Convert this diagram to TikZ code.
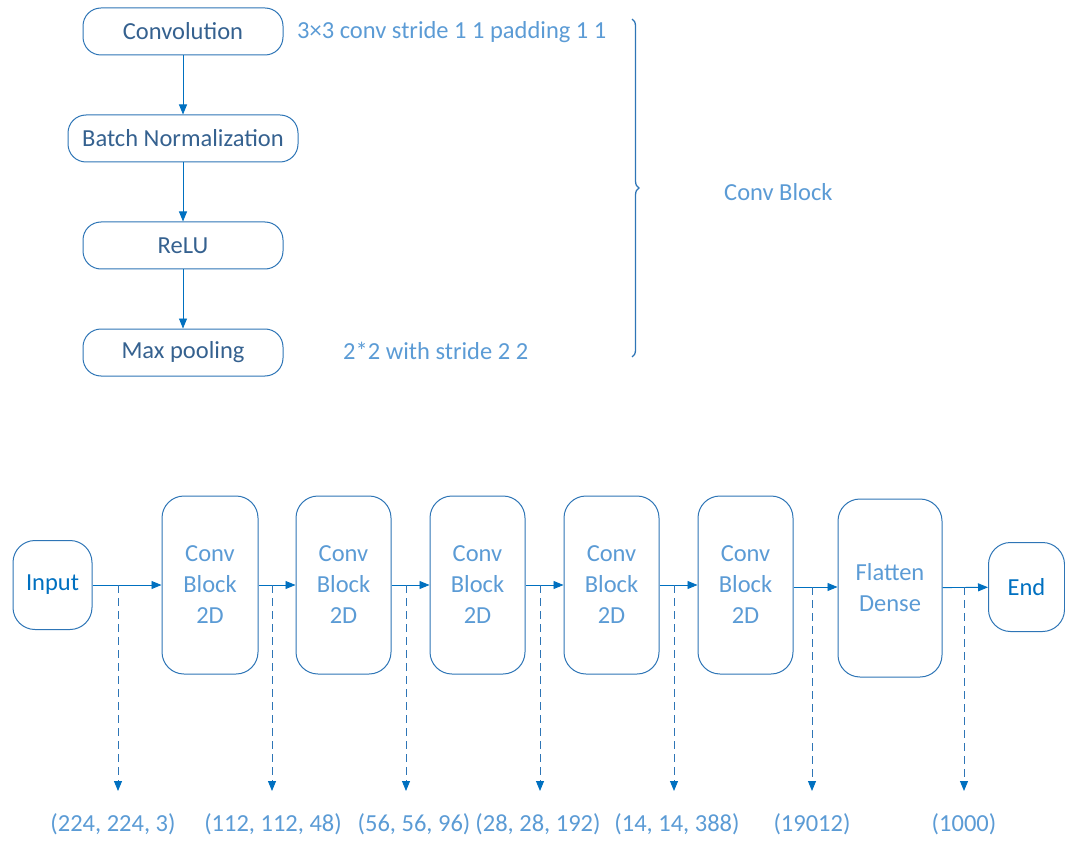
\documentclass[tikz,border=0pt]{standalone}
\usepackage{fontspec}
\setmainfont{Carlito}
\usetikzlibrary{arrows.meta,decorations.pathreplacing}
\definecolor{lineblue}{HTML}{2E75B6}
\definecolor{arrowblue}{HTML}{0070C0}
\definecolor{lightblue}{HTML}{5B9BD5}
\definecolor{steelblue}{HTML}{35618F}
\tikzset{
  x=1pt, y=-1pt,
  every node/.style={font=\fontsize{24.5}{31}\selectfont, inner sep=0pt},
  layerbox/.style={draw=lineblue, line width=1pt, rounded corners=18pt, text=steelblue},
  blockbox/.style={draw=lineblue, line width=1pt, rounded corners=22pt, text=lightblue, align=center},
  endbox/.style={draw=lineblue, line width=1pt, rounded corners=22pt, text=arrowblue},
  flow/.style={draw=arrowblue, line width=0.9pt, -{Triangle[length=10pt,width=8pt]}},
  probe/.style={draw=lineblue, line width=0.9pt, dash pattern=on 8pt off 5pt,
                -{Triangle[length=10pt,width=8pt,color=arrowblue,fill=arrowblue]}},
  note/.style={text=lightblue},
}
\begin{document}
\begin{tikzpicture}
\useasboundingbox (0,0) rectangle (1065,842);

% ---- conv block detail ----
\node[layerbox, minimum width=200pt, minimum height=47pt] (conv) at (183,31.5) {Convolution};
\node[layerbox, minimum width=230pt, minimum height=47pt] (bn) at (183,138.5) {Batch Normalization};
\node[layerbox, minimum width=200pt, minimum height=47pt] (relu) at (183,245.5) {ReLU};
\node[layerbox, minimum width=200pt, minimum height=47pt] (pool) at (183,352.5) {Max pooling};

\draw[flow] (conv) -- (bn);
\draw[flow] (bn) -- (relu);
\draw[flow] (relu) -- (pool);

\node[note, anchor=west] (convnote) at (297,32) {3×3 conv stride 1 1 padding 1 1};
\node[note, anchor=west] (poolnote) at (343,351) {2*2 with stride 2 2};

\coordinate (bracetop) at (632,19);
\coordinate (bracebot) at (632,357);
\draw[lineblue, line width=1.3pt, decorate, decoration={brace, amplitude=7pt}]
  (bracetop) -- (bracebot);
\node[note, anchor=west] (blocklabel) at (724,192) {Conv Block};

% ---- network pipeline ----
\node[endbox, minimum width=79pt, minimum height=89pt] (input) at (52.5,585) {Input};
\node[blockbox, minimum width=96pt, minimum height=178pt] (b1) at (210,585) {Conv\\Block\\2D};
\node[blockbox, minimum width=95pt, minimum height=178pt] (b2) at (343.5,585) {Conv\\Block\\2D};
\node[blockbox, minimum width=95pt, minimum height=178pt] (b3) at (477.5,585) {Conv\\Block\\2D};
\node[blockbox, minimum width=95pt, minimum height=178pt] (b4) at (611.5,585) {Conv\\Block\\2D};
\node[blockbox, minimum width=95pt, minimum height=178pt] (b5) at (745.5,585) {Conv\\Block\\2D};
\node[blockbox, minimum width=104pt, minimum height=178pt] (fd) at (890,588) {Flatten\\Dense};
\node[endbox, minimum width=76pt, minimum height=89pt] (end) at (1026.5,587) {End};

\draw[flow] (input) -- (b1);
\draw[flow] (b1) -- (b2);
\draw[flow] (b2) -- (b3);
\draw[flow] (b3) -- (b4);
\draw[flow] (b4) -- (b5);
\draw[flow] (b5.east |- 0,587) -- (fd.west |- 0,587);
\draw[flow] (fd) -- (end);

% tensor shapes tapped off each connection
\foreach \name/\px/\py/\lx/\txt in {
  s0/118/585/113/{(224, 224, 3)},
  s1/272/585/273/{(112, 112, 48)},
  s2/406/585/414/{(56, 56, 96)},
  s3/540/585/538/{(28, 28, 192)},
  s4/674/585/677/{(14, 14, 388)},
  s5/812/587/812/{(19012)},
  s6/964/587/964/{(1000)}} {
  \coordinate (\name top) at (\px,\py);
  \coordinate (\name bot) at (\px,791);
  \draw[probe] (\name top) -- (\name bot);
  \node[note] (\name label) at (\lx,824) {\txt};
}
\end{tikzpicture}
\end{document}
